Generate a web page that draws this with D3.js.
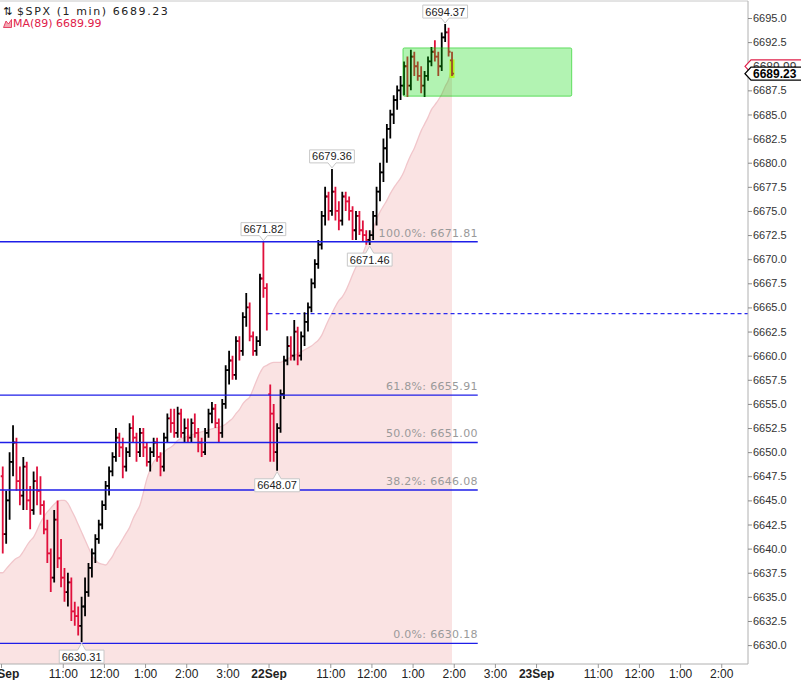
<!DOCTYPE html>
<html><head><meta charset="utf-8">
<script src="https://cdn.jsdelivr.net/npm/d3@7/dist/d3.min.js"></script>
<style>
body{margin:0;background:#fff;}
svg{display:block;font-family:"Liberation Sans",Arial,sans-serif;}
</style></head><body>
<svg id="c" width="801" height="680"></svg>
<script>
// ---------- DATA ----------
const sessionDates = ["19Sep", "22Sep", "23Sep"];
const sessionBarCounts = [78, 54];
const barMinutes = 5;
const sessionMinutes = 390;

const opens = [
6647.5,6641.5,6645,6649,6651,6647,6645.5,6648.5,6645,6644,6647,6646,6644.5,6642,6639.5,6637,6643,6639,6637,6635.5,
6636.5,6633.5,6633,6632,6634,6635.5,6638,6639.5,6641,6642.5,6644.5,6646.5,6648,6649.5,6651.5,6650.5,6648.5,6650,6652.5,6651.5,
6650,6652,6650.5,6649,6650,6651,6649.5,6648.5,6651.5,6653.5,6653,6652,6654,6652,6652.5,6651.5,6653,6652,6651,6650,
6652,6654,6654.5,6653,6652,6655,6658.5,6659.5,6658,6661.5,6660.5,6664,6665,6662,6660.5,6661.5,6668,6667,
6656,6654,6650,6652.5,6656,6659.5,6661,6660,6662.5,6660,6662,6663.5,6665,6667.5,6669.5,6671.5,6674.5,6676.5,6675,6677,
6675,6674,6676.5,6676,6675,6673,6674.5,6673,6672.5,6672,6672.5,6674.5,6677,6679,6681.5,6683.5,6685,6686.5,6687.5,6688,
6690,6688,6691,6690,6689,6688,6689,6690.5,6691.5,6691,6690,6693,6693.5,6690.6];
const highs = [
6648.5,6646,6650,6652.8,6651.5,6648.5,6649.5,6649,6646.5,6648,6648.5,6647.5,6645,6643,6640,6644,6645,6641,6638,6637.5,
6637,6634.5,6634,6635,6637,6638.5,6640,6641.5,6643,6645,6647,6648.5,6650,6652.5,6652,6651.5,6650.5,6653,6653.8,6652,
6652.5,6652.5,6651,6650.5,6651.5,6651.5,6650,6652,6654,6654.5,6654.5,6654.7,6654.5,6653.5,6653.5,6653.5,6654,6652.5,6651.5,6652.5,
6654.5,6655.2,6655,6653.5,6655.5,6659,6660.5,6660,6662,6662,6664.5,6666.5,6665.5,6662.5,6662,6668.5,6671.82,6667.5,
6657,6655,6653,6656.5,6660,6662,6662,6663.7,6663,6662.5,6664.5,6665.5,6668,6670,6672,6675,6677.5,6677,6679.36,6677.5,
6676,6677,6677,6676.5,6675.5,6675,6675,6674,6673,6673,6675,6677.5,6680,6682.5,6684,6685.5,6687,6688,6689,6690.5,
6691,6691.7,6691.5,6690.5,6690,6689.5,6691,6692,6692.7,6691.5,6693.5,6694.37,6694,6691.5];
const lows = [
6639.5,6640.5,6643,6647.5,6646,6644.5,6644,6644,6642,6643.5,6644.5,6643.5,6641.5,6638.5,6635.5,6636.5,6638,6636,6634.5,6634,
6632.5,6632,6631,6630.31,6633,6635,6637,6638.5,6640.5,6642,6644,6645.5,6647.5,6649,6649.5,6647.3,6648,6649.5,6651,6649,
6649.5,6649.5,6648.5,6648,6649.5,6649,6647.5,6648,6651,6652,6651.5,6651.5,6651.5,6651,6651,6651,6651.5,6650,6649.5,6649.7,
6651.5,6653,6652.5,6651,6651.5,6654.5,6657,6657.5,6657.5,6659.5,6660,6663,6661.5,6660,6660,6661,6666,6662.6,
6649,6649,6648.07,6652,6655.5,6659,6659.5,6659.5,6659,6659.5,6661,6662.5,6664.5,6667,6669,6671,6673.5,6674,6674.5,6674,
6673,6673.5,6675,6674,6672,6672,6672.5,6671.8,6671.5,6671.46,6672,6673.5,6676,6678,6680,6682.5,6684,6685.5,6686.5,6687,
6686.8,6687.5,6689,6688.5,6687.2,6686.8,6688.5,6690,6690.5,6689,6689.5,6692.5,6691,6689];
const closes = [
6641.5,6645,6649,6651,6647,6645.5,6648.5,6645,6644,6647,6646,6644.5,6642,6639.5,6637,6643,6639,6637,6635.5,6636.5,
6633.5,6633,6632,6634,6635.5,6638,6639.5,6641,6642.5,6644.5,6646.5,6648,6649.5,6651.5,6650.5,6648.5,6650,6652.5,6651.5,6650,
6652,6650.5,6649,6650,6651,6649.5,6648.5,6651.5,6653.5,6653,6652,6654,6652,6652.5,6651.5,6653,6652,6651,6650,6652,
6654,6654.5,6653,6652,6655,6658.5,6659.5,6658,6661.5,6660.5,6664,6665,6662,6660.5,6661.5,6668,6667,6664.36,
6654,6650,6652.5,6656,6659.5,6661,6660,6662.5,6660,6662,6663.5,6665,6667.5,6669.5,6671.5,6674.5,6676.5,6675,6677,6675,
6674,6676.5,6676,6675,6673,6674.5,6673,6672.5,6672,6672.5,6674.5,6677,6679,6681.5,6683.5,6685,6686.5,6687.5,6688,6690,
6688,6691,6690,6689,6688,6689,6690.5,6691.5,6691,6690,6693,6693.5,6691.5,6689.23];
const maValues = [
6637.5,6637.9,6638.3,6638.7,6639.0,6639.2,6639.7,6640.3,6640.8,6641.2,6641.9,6642.7,6643.3,6643.8,6644.2,6644.6,6644.9,6645.0,6645.0,6644.7,
6644.0,6643.3,6642.5,6641.7,6640.9,6640.1,6639.3,6638.8,6638.5,6638.4,6638.3,6638.7,6639.2,6639.9,6640.4,6641.0,6641.6,6642.2,6643.1,6643.8,
6644.5,6645.8,6647.2,6648.2,6649.0,6649.4,6649.7,6650.0,6650.3,6650.5,6650.8,6651.2,6651.4,6651.5,6651.7,6651.8,6651.9,6652.0,6652.1,6652.2,
6652.3,6652.4,6652.5,6652.6,6652.7,6652.9,6653.2,6653.5,6654.0,6654.4,6655.0,6655.4,6655.7,6656.5,6657.4,6658.2,6658.8,6659.0,
6659.2,6659.3,6659.3,6659.3,6659.5,6659.7,6659.8,6660.0,6660.2,6660.4,6660.6,6660.8,6661.0,6661.3,6661.6,6662.1,6662.9,6663.7,6664.4,6665.1,
6665.7,6666.1,6666.7,6667.5,6668.4,6669.2,6669.9,6670.6,6671.5,6672.3,6673.1,6674.1,6674.9,6675.5,6676.1,6676.8,6677.4,6677.9,6678.4,6679.1,
6680.0,6680.8,6681.5,6682.4,6683.3,6684.0,6684.7,6685.5,6686.0,6686.5,6687.1,6687.9,6688.6,6689.99];

const fibPercents = ["100.0%", "61.8%", "50.0%", "38.2%", "0.0%"];
const fibValues = [6671.81, 6655.91, 6651.00, 6646.08, 6630.18];
const fibEndMinute = 695;
const prevClose = 6664.36;
const pivotValues = [6630.31, 6648.07, 6671.82, 6679.36, 6671.46, 6694.37];
const pivotKinds = ["low", "low", "high", "high", "low", "high"];
const zoneTop = 6691.9, zoneBottom = 6686.9, zoneStartMinute = 586, zoneEndMinute = 832;

const yTicks = [6630.0,6632.5,6635.0,6637.5,6640.0,6642.5,6645.0,6647.5,6650.0,6652.5,6655.0,6657.5,6660.0,6662.5,
  6665.0,6667.5,6670.0,6672.5,6675.0,6677.5,6680.0,6682.5,6685.0,6687.5,6690.0,6692.5,6695.0];
const xTickMinutes = [0,90,150,210,270,330, 390,480,540,600,660,720, 780,870,930,990,1050];
const xTickLabels = ["19Sep","11:00","12:00","1:00","2:00","3:00","22Sep","11:00","12:00","1:00","2:00","3:00","23Sep","11:00","12:00","1:00","2:00"];
const symbolTitle = "$SPX (1 min)";
const lastPrice = 6689.23;
const maLabel = "MA(89)";
const maLast = 6689.99;

// ---------- BUILD ----------
const W = 801, H = 680;
const plot = {left: 0, right: 748, top: 1, bottom: 664};
const svg = d3.select("#c");

const x = d3.scaleLinear().domain([-1.5, 1089]).range([plot.left, plot.right]);
const y = d3.scaleLinear().domain([6630, 6695]).range([645.1, 18]);

const bars = [];
let idx = 0;
sessionBarCounts.forEach((n, s) => {
  for (let j = 0; j < n; j++) {
    bars.push({m: s * sessionMinutes + j * barMinutes + barMinutes / 2,
      o: opens[idx], h: highs[idx], l: lows[idx], c: closes[idx], ma: maValues[idx], i: idx});
    idx++;
  }
});

svg.append("defs").append("clipPath").attr("id", "clip")
  .append("rect").attr("x", plot.left).attr("y", plot.top)
  .attr("width", plot.right - plot.left).attr("height", plot.bottom - plot.top);

const g = svg.append("g").attr("clip-path", "url(#clip)");

// MA area
const maPts = [{m: x.domain()[0], ma: bars[0].ma}].concat(bars);
g.append("path").datum(maPts)
  .attr("d", d3.area().x(d => x(d.m)).y0(plot.bottom).y1(d => y(d.ma)).curve(d3.curveMonotoneX))
  .attr("fill", "#fae3e3");
g.append("path").datum(maPts)
  .attr("d", d3.line().x(d => x(d.m)).y(d => y(d.ma)).curve(d3.curveMonotoneX))
  .attr("fill", "none").attr("stroke", "#f1c6cb").attr("stroke-width", 1.3);

// previous close dashed
g.append("line")
  .attr("x1", x(sessionMinutes)).attr("x2", plot.right)
  .attr("y1", y(prevClose)).attr("y2", y(prevClose))
  .attr("stroke", "#2b2bf0").attr("stroke-width", 1.2).attr("stroke-dasharray", "4,3");

// yellow highlight of the last bar
const lastBar = bars[bars.length - 1];
g.append("rect")
  .attr("x", x(lastBar.m) - 2.5).attr("width", 5)
  .attr("y", y(lastBar.o) - 1).attr("height", y(lastBar.l) - y(lastBar.o) + 3)
  .attr("fill", "#ffff30");

// OHLC bars
const tk = 2;
g.append("g").selectAll("path").data(bars).join("path")
  .attr("d", d => {
    const cx = x(d.m);
    return `M${cx},${y(d.h)}V${y(d.l)}M${cx - tk},${y(d.o)}H${cx}M${cx},${y(d.c)}H${cx + tk}`;
  })
  .attr("fill", "none")
  .attr("stroke", d => d.c >= d.o ? "#000" : "#e0103c")
  .attr("stroke-width", 1.8);

// fib lines
fibValues.forEach((v, i) => {
  g.append("line").attr("x1", x(x.domain()[0])).attr("x2", x(fibEndMinute))
    .attr("y1", y(v)).attr("y2", y(v))
    .attr("stroke", "#1e1ee8").attr("stroke-width", 1.4);
  g.append("text").attr("x", x(fibEndMinute)).attr("y", y(v) - 5)
    .attr("text-anchor", "end").attr("fill", "#9a9a9a")
    .style("font-family", "'DejaVu Sans',sans-serif").style("font-size", "11px").style("letter-spacing", "0.3px")
    .text(`${fibPercents[i]}: ${v.toFixed(2)}`);
});

// green zone
g.append("rect")
  .attr("x", x(zoneStartMinute)).attr("y", y(zoneTop))
  .attr("width", x(zoneEndMinute) - x(zoneStartMinute)).attr("height", y(zoneBottom) - y(zoneTop))
  .attr("rx", 1.5)
  .attr("fill", "rgba(0,215,0,0.3)").attr("stroke", "rgba(0,200,0,0.55)").attr("stroke-width", 1);

// pivot labels
pivotValues.forEach((v, k) => {
  const kind = pivotKinds[k];
  const b = bars.find(d => (kind === "high" ? d.h : d.l) === v);
  const cx = x(b.m), py = y(v);
  const lg = g.append("g");
  const txt = lg.append("text").attr("x", cx).attr("text-anchor", "middle")
    .style("font-size", "11px").attr("fill", "#222").text(v.toFixed(2));
  const w = txt.node().getComputedTextLength() + 5, h = 13;
  let top, path;
  if (kind === "high") {
    top = py - 6 - h;
    path = `M${cx - w/2},${top}H${cx + w/2}V${top + h}H${cx + 4}L${cx},${py - 1}L${cx - 4},${top + h}H${cx - w/2}Z`;
  } else {
    top = py + 8;
    path = `M${cx - w/2},${top}H${cx - 4}L${cx},${py + 1}L${cx + 4},${top}H${cx + w/2}V${top + h}H${cx - w/2}Z`;
  }
  lg.insert("path", "text").attr("d", path).attr("fill", "#fff").attr("stroke", "#c8c8c8").attr("stroke-width", 1);
  txt.attr("y", top + 10.5);
});

// frame
svg.append("line").attr("x1", plot.left).attr("x2", plot.right).attr("y1", plot.top).attr("y2", plot.top)
  .attr("stroke", "#c8c8c8");

// right axis
const ya = svg.append("g").attr("transform", `translate(${plot.right},0)`)
  .call(d3.axisRight(y).tickValues(yTicks).tickFormat(d3.format(".1f")).tickSize(4).tickPadding(1));
ya.select(".domain").attr("d", `M0,${plot.top}V${plot.bottom}`).attr("stroke", "#b0b0b0");
ya.selectAll(".tick line").attr("stroke", "#888");
ya.selectAll(".tick text").attr("fill", "#333").style("font-size", "11px").style("font-family", "'Liberation Sans',Arial,sans-serif");

// bottom axis
const xa = svg.append("g").attr("transform", `translate(0,${plot.bottom})`)
  .call(d3.axisBottom(x).tickValues(xTickMinutes).tickFormat((d, i) => xTickLabels[i]).tickSize(4).tickPadding(1));
xa.select(".domain").attr("d", `M${plot.left},0H${plot.right}`).attr("stroke", "#b0b0b0");
xa.selectAll(".tick line").attr("stroke", "#999");
xa.selectAll(".tick text").attr("fill", "#222").style("font-size", "12px")
  .style("font-family", "'Liberation Sans',Arial,sans-serif")
  .style("font-weight", (d, i) => sessionDates.includes(xTickLabels[i]) ? "bold" : "normal");

// right-side price markers
function marker(v, stroke, bold, sw) {
  const yc = y(v), hh = 6.5, tip = plot.right - 3, bx = plot.right + 3;
  const mg = svg.append("g");
  mg.append("path").attr("d", `M${tip},${yc}L${bx},${yc - hh}H${W + 2}V${yc + hh}H${bx}Z`)
    .attr("fill", "#fff").attr("stroke", stroke).attr("stroke-width", sw);
  mg.append("text").attr("x", bx + 2).attr("y", yc + 4.5)
    .style("font-size", "12px").style("font-weight", bold ? "bold" : "normal")
    .attr("fill", bold ? "#000" : "#444").text(v.toFixed(2));
}
marker(maLast, "#e0204a", false, 1.2);
marker(lastPrice, "#000", true, 1.3);

// legend
const lgd = svg.append("g").style("font-family", "'DejaVu Sans',sans-serif");
lgd.append("text").attr("x", 3).attr("y", 15).style("font-size", "11px").attr("fill", "#111").text("⇅");
lgd.append("text").attr("x", 17).attr("y", 15).style("font-size", "11px").style("letter-spacing", "1.6px")
  .attr("fill", "#222").text(`${symbolTitle} ${lastPrice.toFixed(2)}`);
lgd.append("path").attr("d", "M3.5,27.5L6,21L8.5,24L11.5,19.5V27.5Z")
  .attr("fill", "#f3a7b2").attr("stroke", "#e0204a").attr("stroke-width", 0.8);
lgd.append("text").attr("x", 13).attr("y", 27).style("font-size", "11px")
  .attr("fill", "#e0204a").text(`${maLabel} ${maLast.toFixed(2)}`);
</script>
</body></html>
